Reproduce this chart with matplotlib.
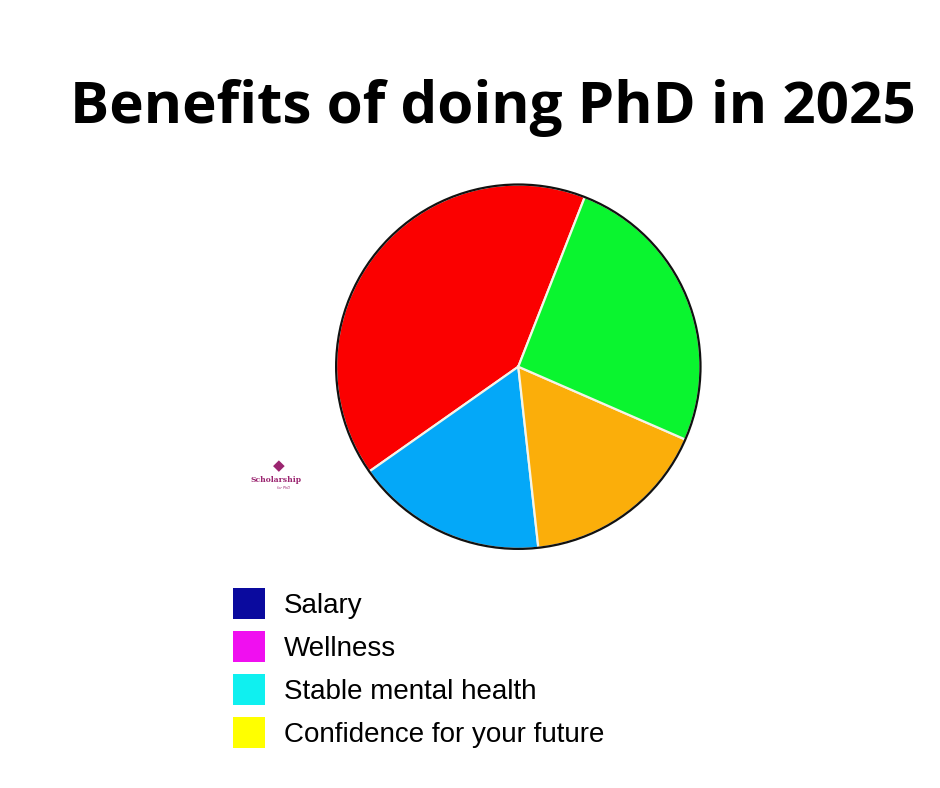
import matplotlib.pyplot as plt
from matplotlib.patches import Patch, Circle

# pie slices (share of the pie)
slice_names = ['red', 'blue', 'orange', 'green']
slice_vals = [40.7, 17.0, 16.7, 25.6]
slice_colors = ['#fb0000', '#04a8f8', '#fbae0a', '#0af52f']

# legend entries (not matching the slices, that's the joke)
legend_labels = ['Salary', 'Wellness', 'Stable mental health', 'Confidence for your future']
legend_colors = ['#0a0a9e', '#f00ff0', '#0ff0f0', '#ffff00']

title = 'Benefits of doing PhD in 2025'

W, H = 940, 788
fig = plt.figure(figsize=(W/100, H/100), dpi=100)
fig.patch.set_facecolor('white')

fig.text(493/W, 1 - 123/H, title, ha='center', va='baseline',
         fontsize=42, fontweight='bold', family='Open Sans', color='black')

# pie axes placed so circle sits at (518, 367) px with r=184
cx, cy, r = 518.3, 366.7, 184
ax = fig.add_axes([(cx - r)/W, 1 - (cy + r)/H, 2*r/W, 2*r/H])
ax.pie(slice_vals, colors=slice_colors, startangle=68.6, counterclock=True,
       radius=1, wedgeprops=dict(edgecolor='#f4f4e8', linewidth=1.6))
ax.add_patch(Circle((0, 0), 1, fill=False, edgecolor='#111111', linewidth=1.6))
ax.set_xlim(-1.01, 1.01)
ax.set_ylim(-1.01, 1.01)
ax.set_aspect('equal')
ax.axis('off')

handles = [Patch(facecolor=c, edgecolor='none') for c in legend_colors]
fig.legend(handles, legend_labels, loc='upper left',
           bbox_to_anchor=(233/W, 1 - 588/H), borderaxespad=0, borderpad=0,
           frameon=False, prop={'family': 'Liberation Sans', 'size': 20},
           handlelength=1.15, handleheight=1.33, handletextpad=0.68,
           labelspacing=0.44)

# little watermark
wm = '#9b2570'
fig.text(279/W, 1 - 466/H, '\u25c6', ha='center', va='center', fontsize=11, color=wm)
fig.text(276/W, 1 - 480/H, 'Scholarship', ha='center', va='center',
         fontsize=5.5, fontweight='bold', family='DejaVu Serif', color=wm)
fig.text(284/W, 1 - 488/H, 'for PhD', ha='center', va='center',
         fontsize=2.5, style='italic', color=wm)

fig.savefig('out.png', dpi=100, facecolor='white')
